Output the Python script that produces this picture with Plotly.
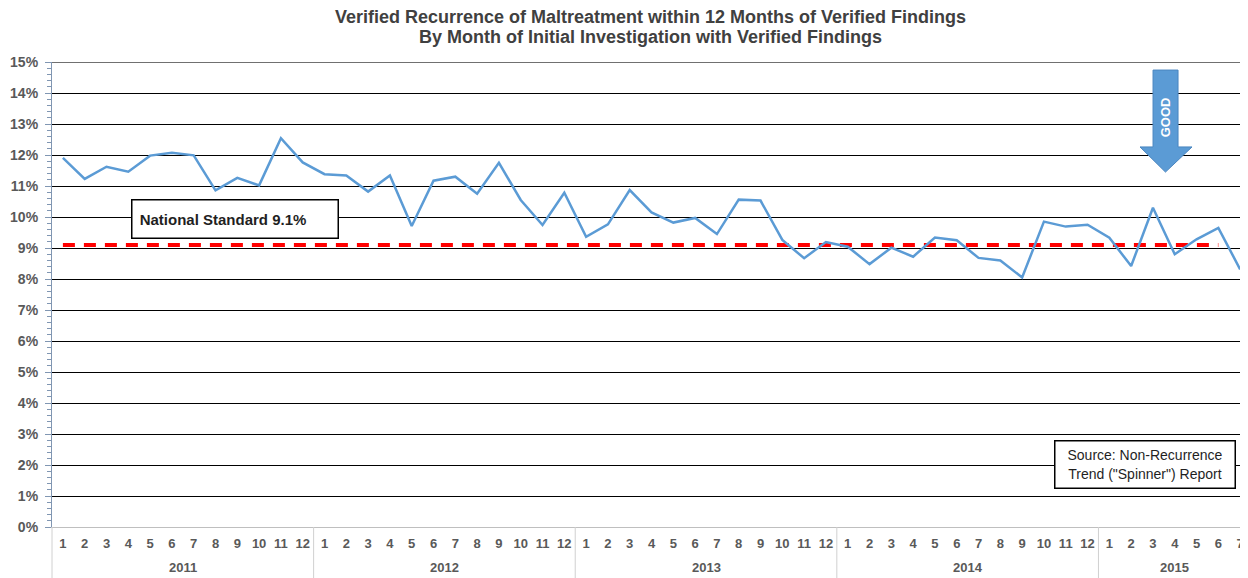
import plotly.graph_objects as go

# chart data
years = ["2011"] * 12 + ["2012"] * 12 + ["2013"] * 12 + ["2014"] * 12 + ["2015"] * 7
months = [str(m) for m in range(1, 13)] * 4 + [str(m) for m in range(1, 8)]
recurrence = [11.91, 11.23, 11.62, 11.46, 11.98, 12.07, 11.99, 10.86, 11.26, 11.02, 12.54, 11.76,
              11.38, 11.34, 10.82, 11.34, 9.71, 11.17, 11.30, 10.75, 11.75, 10.55, 9.74, 10.78,
              9.36, 9.76, 10.87, 10.15, 9.82, 9.97, 9.45, 10.56, 10.53, 9.26, 8.67, 9.19,
              9.04, 8.48, 9.01, 8.72, 9.34, 9.25, 8.68, 8.60, 8.05, 9.85, 9.69, 9.75,
              9.33, 8.42, 10.30, 8.80, 9.28, 9.65, 8.31]
national_standard = [9.1] * 54 + [None]
y_ticks = list(range(0, 16))
y_labels = [f"{v}%" for v in y_ticks]
title_lines = ["Verified Recurrence of Maltreatment within 12 Months of Verified Findings",
               "By Month of Initial Investigation with Verified Findings"]

font_family = "Liberation Sans, Arial, sans-serif"
label_color = "#595959"

#one category per month, labelled with month number only
cats = [y + "-" + m for y, m in zip(years, months)]
x_range = [-0.5, len(cats) - 0.64]

fig = go.Figure()

#national standard dashed line
fig.add_trace(go.Scatter(x=cats, y=national_standard, mode="lines",
                         line=dict(color="#FF0000", width=4, dash="12px,9px"),
                         hoverinfo="skip", showlegend=False))
#recurrence rate
fig.add_trace(go.Scatter(x=cats, y=recurrence, mode="lines",
                         line=dict(color="#5B9BD5", width=2.5),
                         showlegend=False))

#page body has an 8px margin, so the figure is a bit smaller than the window
fig.update_layout(
    width=1240, height=570,
    margin=dict(l=44, r=0, t=54, b=51),
    paper_bgcolor="white", plot_bgcolor="white",
    font=dict(family=font_family, color=label_color),
)

#two title lines
for line, shift in zip(title_lines, [45, 25]):
    fig.add_annotation(x=0.5, xref="paper", y=1, yref="paper", yshift=shift,
                       text="<b>" + line + "</b>", showarrow=False,
                       xanchor="center", yanchor="middle",
                       font=dict(size=18, color="#404040", family=font_family))

fig.update_yaxes(range=[0, 15], tickvals=y_ticks, ticktext=y_labels, automargin=False,
                 showgrid=True, gridcolor="#000000", gridwidth=1.3, zeroline=False,
                 showline=True, linecolor="#8096B2", linewidth=1.2,
                 ticks="outside", ticklen=6, tickcolor="#8096B2", ticklabelstandoff=4,
                 minor=dict(ticks="outside", ticklen=4, dtick=0.2, tickcolor="#8096B2", showgrid=False),
                 tickfont=dict(size=14, color=label_color, family=font_family, weight="bold"))

fig.update_xaxes(type="category", categoryorder="array", categoryarray=cats,
                 tickvals=cats, ticktext=months, range=x_range, automargin=False,
                 showgrid=False, showline=True, linecolor="#BFBFBF", linewidth=1,
                 tickangle=0, ticks="", ticklabelstandoff=4,
                 tickfont=dict(size=13, color=label_color, family=font_family, weight="bold"))

#plot top border
fig.add_shape(type="line", xref="paper", yref="y", x0=0, x1=1, y0=15, y1=15,
              line=dict(color="#404040", width=1.5))

#year labels and year dividers below the axis
year_names = list(dict.fromkeys(years))
start = 0
for yr in year_names:
    n = years.count(yr)
    mid = start + (n - 1) / 2
    fig.add_annotation(x=mid, xref="x", y=0, yref="paper", yshift=-40, text="<b>" + yr + "</b>",
                       showarrow=False, xanchor="center", yanchor="middle",
                       font=dict(size=13, color=label_color, family=font_family))
    edge = (start - 0.5 - x_range[0]) / (x_range[1] - x_range[0])
    fig.add_shape(type="line", xref="paper", yref="paper", x0=edge, x1=edge, y0=0, y1=-0.11,
                  line=dict(color="#D0D0D0", width=1))
    start += n

#GOOD arrow
fig.add_shape(type="path", xref="paper", yref="y",
              path="M 0.9206,14.74 L 0.9415,14.74 L 0.9415,12.26 L 0.9532,12.26 "
                   "L 0.9310,11.45 L 0.9097,12.26 L 0.9206,12.26 Z",
              fillcolor="#5B9BD5", line=dict(color="#4A86C0", width=1))
fig.add_annotation(x=0.9310, xref="paper", y=13.23, yref="y", text="<b>GOOD</b>",
                   textangle=-90, showarrow=False, xanchor="center", yanchor="middle",
                   font=dict(size=13, color="white", family=font_family))

#national standard label
fig.add_annotation(x=0.1526, xref="paper", y=9.95, yref="y",
                   text="<b>&nbsp;National Standard 9.1%</b>", showarrow=False,
                   xanchor="center", yanchor="middle",
                   width=199, height=31, align="left",
                   bordercolor="#000000", borderwidth=1.5, borderpad=3, bgcolor="white",
                   font=dict(size=15, color="#1F1F1F", family=font_family))

#source label
fig.add_annotation(x=0.9135, xref="paper", y=2.03, yref="y",
                   text="Source: Non-Recurrence<br>Trend (\"Spinner\") Report", showarrow=False,
                   xanchor="center", yanchor="middle",
                   width=173, height=40, align="center",
                   bordercolor="#000000", borderwidth=1.5, borderpad=3, bgcolor="white",
                   font=dict(size=14, color="#1F1F1F", family=font_family))

fig.write_html("out.html")
